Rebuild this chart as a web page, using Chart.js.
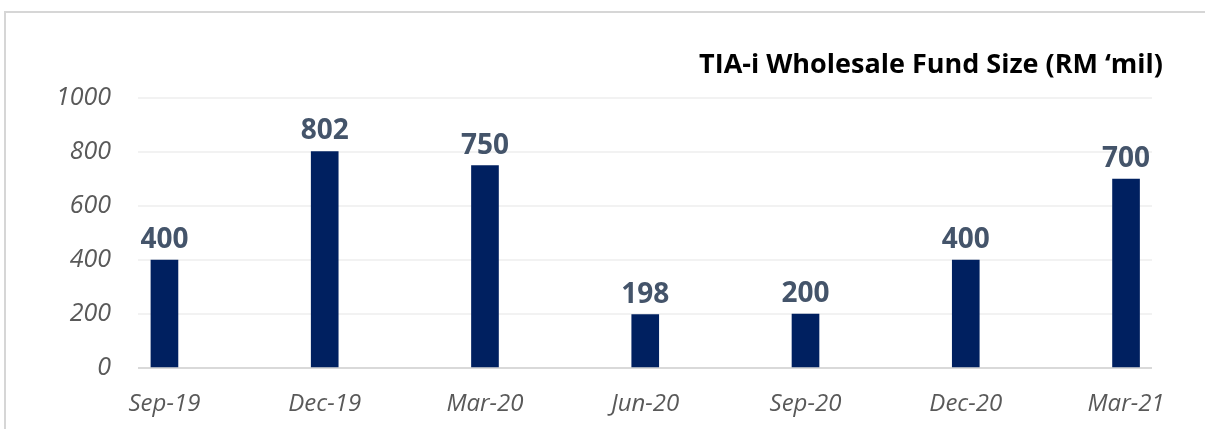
<!DOCTYPE html>
<html lang="en">
<head>
  <meta charset="UTF-8" />
  <title>TIA-i Wholesale Fund Size</title>
  <script src="https://cdn.jsdelivr.net/npm/chart.js"></script>
  <style>
    body { margin: 0; background: #fff; overflow: hidden; }
    #wrap { position: relative; width: 1205px; height: 429px; }
    #frame {
      position: absolute; left: 4px; top: 11px; width: 1300px; height: 500px;
      border-top: 2px solid #d6d6d6; border-left: 2px solid #d6d6d6;
    }
    canvas { position: absolute; left: 0; top: 0; }
  </style>
</head>
<body>
  <div id="wrap">
    <div id="frame"></div>
    <canvas id="fundChart" width="1205" height="429"></canvas>
  </div>

  <script>
    const quarters = ['Sep-19', 'Dec-19', 'Mar-20', 'Jun-20', 'Sep-20', 'Dec-20', 'Mar-21'];
    const fundSize = [400, 802, 750, 198, 200, 400, 700];
    const yTicks = [0, 200, 400, 600, 800, 1000];
    const chartTitle = 'TIA-i Wholesale Fund Size (RM \u2018mil)';

    // value labels over each bar
    const barLabels = {
      id: 'barLabels',
      afterDatasetsDraw(chart) {
        const ctx = chart.ctx;
        const meta = chart.getDatasetMeta(0);
        ctx.save();
        ctx.font = 'bold 28px "Open Sans"';
        ctx.fillStyle = '#44546a';
        ctx.textAlign = 'center';
        ctx.textBaseline = 'alphabetic';
        meta.data.forEach((bar, i) => {
          ctx.fillText(fundSize[i], bar.x, bar.y - 12);
        });
        ctx.restore();
      }
    };

    // title sits at the top right, like the original
    const rightTitle = {
      id: 'rightTitle',
      afterDraw(chart) {
        const ctx = chart.ctx;
        ctx.save();
        ctx.font = 'bold 27px "Open Sans"';
        ctx.fillStyle = '#000';
        ctx.textAlign = 'right';
        ctx.textBaseline = 'alphabetic';
        ctx.fillText(chartTitle, chart.width - 42, 73);
        ctx.restore();
      }
    };

    const ctx = document.getElementById('fundChart').getContext('2d');
    new Chart(ctx, {
      type: 'bar',
      data: {
        datasets: [{
          data: fundSize.map((v, i) => ({ x: i, y: v })),
          backgroundColor: '#002060',
          barThickness: 27
        }]
      },
      options: {
        responsive: false,
        animation: false,
        layout: { padding: { left: 0, top: 98, right: 53, bottom: 0 } },
        plugins: { legend: { display: false }, tooltip: { enabled: false } },
        scales: {
          x: {
            type: 'linear',
            offset: false,
            min: -0.165,
            max: 6.162,
            afterBuildTicks: s => { s.ticks = quarters.map((q, i) => ({ value: i })); },
            afterFit: s => { s.height = 61; },
            grid: { display: false, drawTicks: false, offset: false },
            border: { display: false },
            ticks: {
              autoSkip: false,
              maxRotation: 0,
              padding: 22,
              color: '#595959',
              font: { family: 'Open Sans', size: 24, style: 'italic' },
              callback: v => quarters[v]
            }
          },
          y: {
            min: 0,
            max: 1000,
            afterBuildTicks: s => { s.ticks = yTicks.map(v => ({ value: v })); },
            afterFit: s => { s.width = 138; },
            grid: {
              drawTicks: false,
              lineWidth: 2,
              color: c => c.tick.value === 0 ? '#d9d9d9' : '#f2f2f2'
            },
            border: { display: false },
            ticks: {
              padding: 27,
              color: '#595959',
              font: { family: 'Open Sans', size: 25, style: 'italic' },
              callback: v => String(v)
            }
          }
        }
      },
      plugins: [barLabels, rightTitle]
    });
  </script>
</body>
</html>
